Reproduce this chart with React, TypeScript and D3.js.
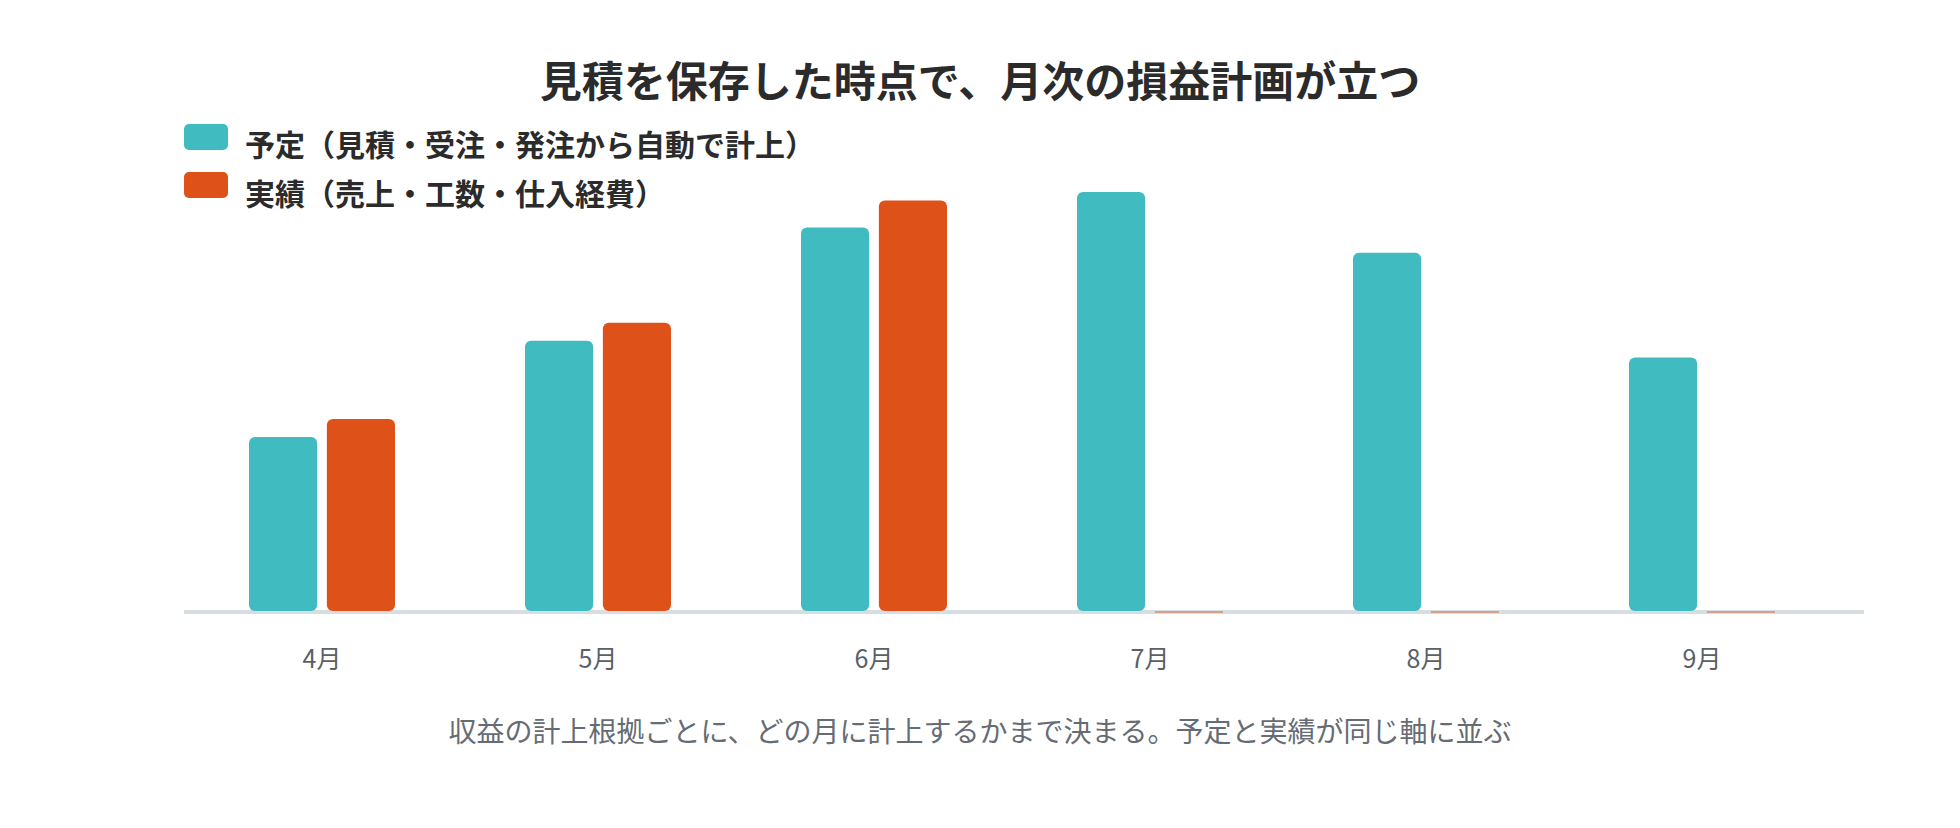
import React from "react";
import * as d3 from "d3";

const months = ["4月", "5月", "6月", "7月", "8月", "9月"];
const planValues = [415, 645, 915, 1000, 855, 605];
const actualValues = [458, 688, 980, 0, 0, 0];
const seriesKeys = ["plan", "actual"];
const seriesLabels = ["予定（見積・受注・発注から自動で計上）", "実績（売上・工数・仕入経費）"];
const seriesColors = ["#40BBC0", "#DE5119"];
const titleText = "見積を保存した時点で、月次の損益計画が立つ";
const captionText = "収益の計上根拠ごとに、どの月に計上するかまで決まる。予定と実績が同じ軸に並ぶ";

const W = 1960;
const H = 828;
const FONT = "'Noto Sans CJK JP', 'Noto Sans', sans-serif";

export default function App() {
  const baseY = 611;
  const x0 = d3.scaleBand<string>().domain(months).range([184, 1840]).paddingInner(0).paddingOuter(0);
  const groupW = 146;
  const x1 = d3.scaleBand<string>().domain(seriesKeys).range([0, groupW]).paddingInner(0.125);
  const y = d3.scaleLinear().domain([0, 1000]).range([baseY, 192]);
  const data = months.map((m, i) => ({ m, vals: [planValues[i], actualValues[i]] }));

  return (
    <svg width={W} height={H} style={{ display: "block", position: "absolute", left: 0, top: 0, background: "#fff" }}>
      <rect x={0} y={0} width={W} height={H} fill="#fff" />
      <text x={980} y={97} textAnchor="middle" fontFamily={FONT} fontWeight={700} fontSize={42} fill="#2b2b2b">
        {titleText}
      </text>
      {seriesLabels.map((lab, i) => (
        <g key={lab}>
          <rect x={184} y={124 + i * 48} width={44} height={26} rx={5} fill={seriesColors[i]} />
          <text x={245} y={156 + i * 49} fontFamily={FONT} fontWeight={700} fontSize={30} fill="#2b2b2b">
            {lab}
          </text>
        </g>
      ))}
      <line x1={184} x2={1864} y1={612} y2={612} stroke="#D6DEE4" strokeWidth={4} />
      {data.map((d) => {
        const gx = (x0(d.m) as number) + x0.bandwidth() / 2 - groupW / 2;
        return (
          <g key={d.m} transform={`translate(${gx},0)`}>
            {d.vals.map((v, j) => {
              const bx = x1(seriesKeys[j]) as number;
              const bw = x1.bandwidth();
              if (v <= 0) {
                return (
                  <line key={j} x1={bx} x2={bx + bw} y1={612} y2={612} stroke={seriesColors[j]} strokeOpacity={0.6} strokeWidth={1.5} />
                );
              }
              return <rect key={j} x={bx} y={y(v)} width={bw} height={baseY - y(v)} rx={6} fill={seriesColors[j]} />;
            })}
          </g>
        );
      })}
      {months.map((m) => (
        <text key={m} x={(x0(m) as number) + x0.bandwidth() / 2} y={668} textAnchor="middle" fontFamily={FONT} fontSize={25} fill="#5a6068">
          {m}
        </text>
      ))}
      <text x={980} y={742} textAnchor="middle" fontFamily={FONT} fontSize={28} fill="#666c74">
        {captionText}
      </text>
    </svg>
  );
}
